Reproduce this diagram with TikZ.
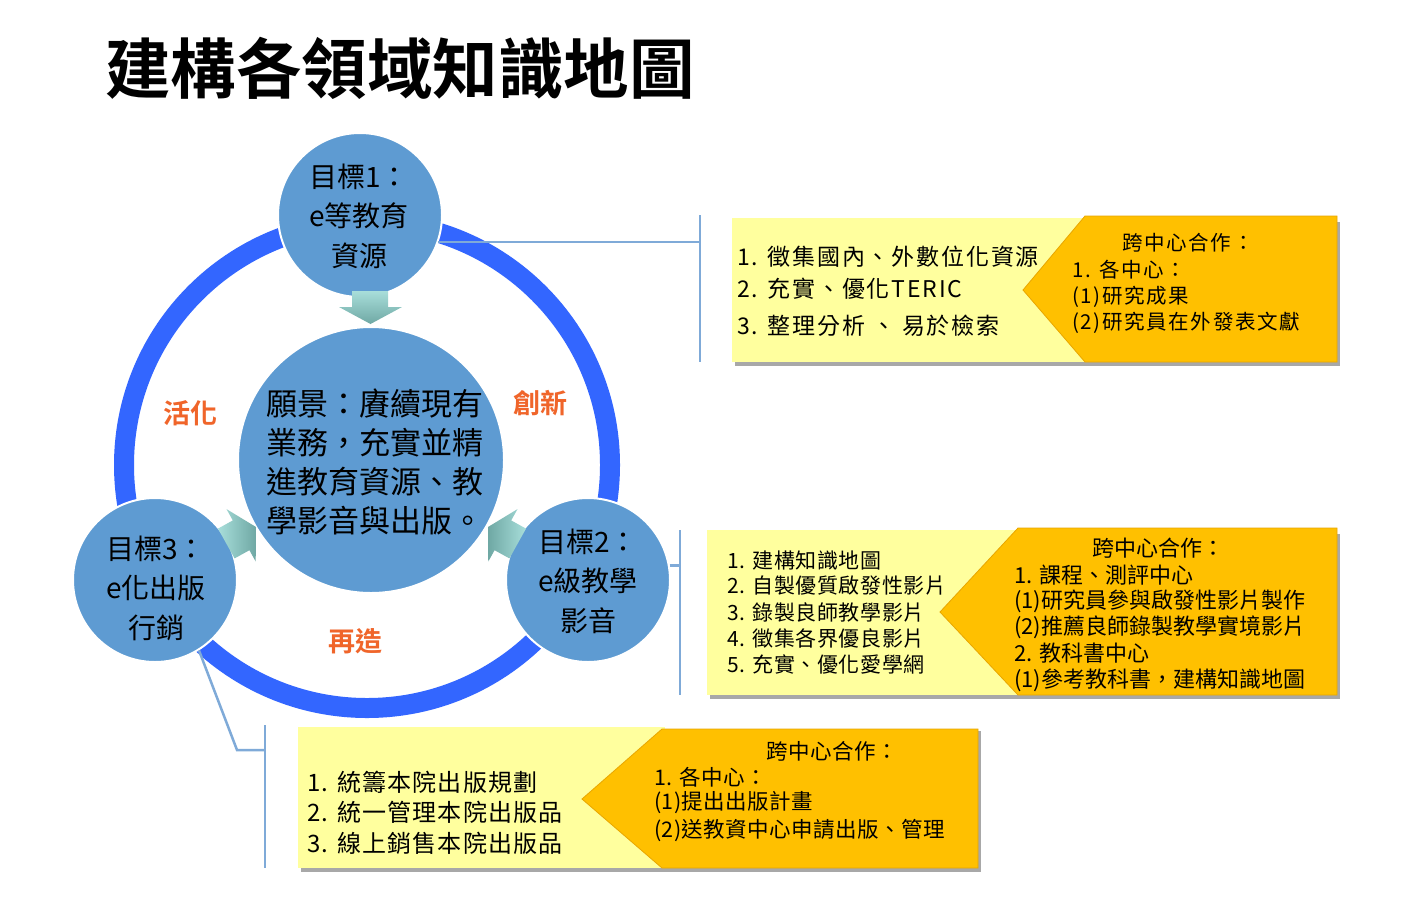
\documentclass[tikz,border=0pt]{standalone}
\usepackage{fontspec}
\setmainfont{Noto Sans CJK TC}[BoldFont={Noto Sans CJK TC Bold}]
\usetikzlibrary{calc}
\definecolor{ringblue}{HTML}{3366FF}
\definecolor{goalblue}{HTML}{5E9BD2}
\definecolor{lblorange}{HTML}{F0652A}
\definecolor{linkblue}{HTML}{7FAAD8}
\definecolor{boxyellow}{HTML}{FFFF9E}
\definecolor{boxorange}{HTML}{FFC000}
\definecolor{orangeedge}{HTML}{E8A600}
\definecolor{shadowgray}{HTML}{A8A8A8}
\definecolor{arrowlight}{HTML}{A8DEDA}
\definecolor{arrowdark}{HTML}{6FA8A4}
\tikzset{
  goalc/.style={circle, fill=goalblue, draw=white, line width=2pt, minimum size=164pt, inner sep=0pt},
  visionc/.style={circle, fill=goalblue, draw=white, line width=2pt, minimum size=266pt, inner sep=0pt},
  goaltxt/.style={align=center, inner sep=0pt, font=\fontsize{28}{39.5}\selectfont},
  visiontxt/.style={align=center, inner sep=0pt, font=\fontsize{31}{39}\selectfont},
  lbl/.style={inner sep=0pt, text=lblorange, font=\fontsize{27}{30}\selectfont\bfseries},
  link/.style={draw=linkblue, line width=2.5pt},
  ybox/.style={fill=boxyellow, inner sep=0pt, anchor=north west},
  obox/.style={fill=boxorange, draw=orangeedge, line width=0.8pt, line join=miter},
  shadowbox/.style={fill=shadowgray},
  ln/.style={inner sep=0pt, anchor=west},
  hd/.style={inner sep=0pt, anchor=center},
}
\begin{document}
\begin{tikzpicture}[x=1pt, y=-1pt]
\useasboundingbox (0,0) rectangle (1415,900);
\fill[white] (0,0) rectangle (1415,900);

% title
\node[ln, font=\fontsize{65.5}{70}\selectfont\bfseries] (title) at (105,68) {建構各領域知識地圖};

% ring
\draw[ringblue, line width=20pt] (367,465) circle [radius=243pt];

% box 1
\coordinate (b1top) at (700,215);
\coordinate (b1bot) at (700,362);
\fill[shadowbox] (735,222) rectangle (1340,366);
\node[ybox, minimum width=358pt, minimum height=144pt] (yb1) at (732,218) {};
\path[obox] (1085,216) -- (1337,216) -- (1337,362) -- (1085,362) -- (1023,290) -- cycle;
% box 2
\coordinate (b2top) at (680,530);
\coordinate (b2bot) at (680,695);
\fill[shadowbox] (710,534) rectangle (1340,699);
\node[ybox, minimum width=318pt, minimum height=165pt] (yb2) at (707,530) {};
\path[obox] (1018,528) -- (1337,528) -- (1337,695) -- (1018,695) -- (940,612) -- cycle;
% box 3
\coordinate (b3top) at (265,725);
\coordinate (b3bot) at (265,868);
\coordinate (b3knee) at (237,750);
\fill[shadowbox] (301,731) rectangle (981,872);
\node[ybox, minimum width=367pt, minimum height=141pt] (yb3) at (298,727) {};
\path[obox] (662,729) -- (978,729) -- (978,868) -- (662,868) -- (582,799) -- cycle;

% goal circles
\node[goalc] (g1) at (360,215) {};
\node[goalc] (g2) at (588,580) {};
\node[goalc] (g3) at (155,580) {};
\node[visionc] (vc) at (371,460) {};

% connectors
\draw[link] (b1top) -- (b1bot);
\draw[link] (g1.-19) -- (g1.-19 -| b1top);
\draw[link] (b2top) -- (b2bot);
\draw[link] (g2.10) -- (g2.10 -| b2top);
\draw[link] (b3top) -- (b3bot);
\draw[link] (g3.-58) -- (b3knee) -- (b3knee -| b3top);

% block arrows
\shade[top color=arrowlight, bottom color=arrowdark] (352,291) -- (388,291) -- (388,307) -- (402,307) -- (370.5,324) -- (339,307) -- (352,307) -- cycle;
\shade[left color=arrowlight, right color=arrowdark] (218.0,528.6) -- (232.8,520.4) -- (226.5,509.1) -- (256,527) -- (255.7,561.5) -- (249.4,550.2) -- (234.6,558.4) -- cycle;
\shade[left color=arrowdark, right color=arrowlight] (526.0,528.6) -- (511.2,520.4) -- (517.5,509.1) -- (488,527) -- (488.3,561.5) -- (494.6,550.2) -- (509.4,558.4) -- cycle;

% circle texts
\node[goaltxt] (g1t) at (359,216) {目標1：\\e等教育\\資源};
\node[goaltxt] (g2t) at (588,581) {目標2：\\e級教學\\影音};
\node[goaltxt] (g3t) at (156,588) {目標3：\\e化出版\\行銷};
\node[visiontxt] (vct) at (375,462) {願景：賡續現有\\業務，充實並精\\進教育資源、教\\學影音與出版。};

% orange labels
\node[lbl] (l1) at (190,413) {活化};
\node[lbl] (l2) at (540,403) {創新};
\node[lbl] (l3) at (355,641) {再造};

% box 1 texts
\begin{scope}[font=\fontsize{23}{26}\selectfont\addfontfeatures{LetterSpace=8}]
\node[ln] (y1a) at (737,257) {1. 徵集國內、外數位化資源};
\node[ln] (y1b) at (737,289) {2. 充實、優化TERIC};
\node[ln] (y1c) at (737,326) {3. 整理分析 、 易於檢索};
\end{scope}
\begin{scope}[font=\fontsize{20.5}{24}\selectfont\addfontfeatures{LetterSpace=8}]
\node[hd] (o1h) at (1188,243) {跨中心合作：};
\node[ln] (o1a) at (1072,270) {1. 各中心：};
\node[ln] (o1b) at (1072,297) {(1)研究成果};
\node[ln] (o1c) at (1072,323) {(2)研究員在外發表文獻};
\end{scope}

% box 2 texts
\begin{scope}[font=\fontsize{21}{24}\selectfont\addfontfeatures{LetterSpace=3}]
\node[ln] (y2a) at (727,560) {1. 建構知識地圖};
\node[ln] (y2b) at (727,586) {2. 自製優質啟發性影片};
\node[ln] (y2c) at (727,612) {3. 錄製良師教學影片};
\node[ln] (y2d) at (727,638) {4. 徵集各界優良影片};
\node[ln] (y2e) at (727,664) {5. 充實、優化愛學網};
\end{scope}
\begin{scope}[font=\fontsize{22}{26}\selectfont]
\node[hd] (o2h) at (1158,548) {跨中心合作：};
\node[ln] (o2a) at (1014,575) {1. 課程、測評中心};
\node[ln] (o2b) at (1014,601) {(1)研究員參與啟發性影片製作};
\node[ln] (o2c) at (1014,627) {(2)推薦良師錄製教學實境影片};
\node[ln] (o2d) at (1014,653) {2. 教科書中心};
\node[ln] (o2e) at (1014,680) {(1)參考教科書，建構知識地圖};
\end{scope}

% box 3 texts
\begin{scope}[font=\fontsize{24}{27}\selectfont\addfontfeatures{LetterSpace=5}]
\node[ln] (y3a) at (307,782) {1. 統籌本院出版規劃};
\node[ln] (y3b) at (307,812) {2. 統一管理本院出版品};
\node[ln] (y3c) at (307,843) {3. 線上銷售本院出版品};
\end{scope}
\begin{scope}[font=\fontsize{21.5}{24}\selectfont\addfontfeatures{LetterSpace=2}]
\node[hd] (o3h) at (832,751) {跨中心合作：};
\node[ln] (o3a) at (654,777) {1. 各中心：};
\node[ln] (o3b) at (654,803) {(1)提出出版計畫};
\node[ln] (o3c) at (654,830) {(2)送教資中心申請出版、管理};
\end{scope}
\end{tikzpicture}
\end{document}
